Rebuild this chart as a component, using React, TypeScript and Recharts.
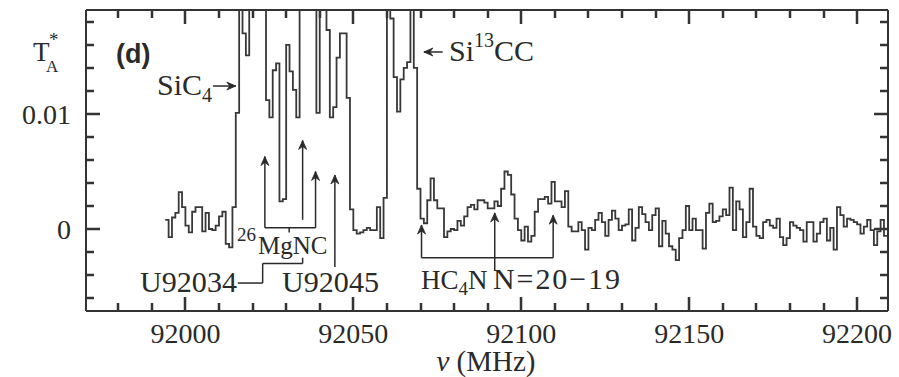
import React from 'react';
import { ComposedChart, Line, XAxis, YAxis, ReferenceLine } from 'recharts';

// spectrum in 1 MHz channels, first channel starts at F0
const F0 = 91994;

// 91994 - 92015 : baseline left of SiC4
const BASE_LEFT = [
  0.0008, -0.0007, 0.001, 0.0014, 0.0032, 0.0019, 0.0003, -0.0003, 0.0015, 0.0019, 0.0019,
  -0.0002, 0.0014, 0.0, -0.0001, 0.0003, 0.0011, 0.0015, -0.0013, -0.0016, 0.0019, 0.0101,
];

// 92016 - 92068 : SiC4 / MgNC / U lines / Si13CC (values above the frame are clipped)
const STRONG = [
  0.03, 0.017, 0.0151, 0.032, 0.035, 0.036, 0.033, 0.028, 0.0112, 0.0097, 0.0138, 0.0144,
  0.0024, 0.0026, 0.016, 0.0137, 0.0121, 0.0097, 0.024, 0.028, 0.03, 0.027, 0.022, 0.0101,
  0.024, 0.026, 0.0173, 0.0097, 0.0106, 0.0149, 0.017, 0.017, 0.0114, 0.0017, -0.0001,
  -0.0004, -0.0003, -0.0001, 0.0001, -0.0001, -0.0001, 0.0019, -0.0008, 0.0027, 0.026,
  0.0183, 0.0132, 0.0102, 0.013, 0.014, 0.0145, 0.027, 0.014,
];

// 92069 - 92115 : HC4N triplet region
const HC4N_REGION = [
  0.0035, 0.0009, 0.0005, 0.0025, 0.0044, 0.0025, 0.0018, 0.0018, -0.0007, -0.0002, 0.0,
  -0.0001, 0.0007, 0.0003, 0.0011, 0.0019, 0.0021, 0.0017, 0.0025, 0.0025, 0.0023, 0.0018,
  0.0018, 0.0024, 0.002, 0.0035, 0.005, 0.0047, 0.003, 0.0009, -0.0001, -0.001, 0.0002,
  -0.0011, -0.0006, 0.0015, 0.0026, 0.0026, 0.0028, 0.0022, 0.0041, 0.0024, 0.0024, 0.0019,
  0.0033, 0.0002, -0.0002,
];

// 92116 - 92208 : noise to the right
const NOISE_RIGHT = [
  -0.0002, 0.0006, -0.0001, -0.0018, 0.0001, -0.0001, 0.0008, 0.0014, 0.0006, -0.0006,
  0.0008, 0.0016, 0.0009, -0.0001, 0.0003, 0.0004, 0.0017, -0.001, 0.0001, 0.0019, 0.0013,
  0.0006, -0.0001, 0.0012, 0.0018, -0.0015, 0.0007, -0.0004, -0.0015, -0.0018, -0.0027,
  -0.0008, -0.0001, 0.002, -0.0001, 0.0009, -0.0001, -0.0001, -0.0017, 0.0014, 0.0022,
  0.0006, 0.0007, 0.0011, 0.0017, 0.0012, 0.0036, -0.0001, 0.0024, 0.0017, -0.0007, 0.0006,
  0.0035, 0.0002, -0.0006, -0.0008, 0.0006, 0.0008, 0.0003, 0.0001, 0.0009, -0.0007,
  -0.0014, -0.0008, 0.0006, 0.0003, 0.0001, -0.0001, -0.0011, 0.0006, 0.0006, -0.0011,
  -0.0004, 0.0006, 0.0009, -0.001, 0.0001, -0.0018, 0.0019, 0.0012, 0.0002, 0.0009, 0.0008,
  0.0006, 0.0004, -0.0004, 0.0002, 0.0008, -0.0001, -0.0014, -0.0002, 0.0008, -0.0006,
];

const X_TICKS = [
  91980, 91990, 92000, 92010, 92020, 92030, 92040, 92050, 92060, 92070, 92080, 92090, 92100,
  92110, 92120, 92130, 92140, 92150, 92160, 92170, 92180, 92190, 92200,
];
const X_MAJOR = [92000, 92050, 92100, 92150, 92200];
const Y_TICKS = [
  -0.006, -0.004, -0.002, 0, 0.002, 0.004, 0.006, 0.008, 0.01, 0.012, 0.014, 0.016, 0.018,
];
const Y_MAJOR = [0, 0.01];
const Y_LABELS = ['0', '0.01'];

// arrows [nu1, t1, nu2, t2], head at the second point
const ARROWS = [
  [92008.2, 0.01243, 92015.0, 0.01243], // SiC4
  [92076.6, 0.01539, 92071.0, 0.01539], // Si13CC
  [92023.66, 0.0001, 92023.66, 0.0063], // 26MgNC
  [92038.75, 0.0001, 92038.75, 0.005],
  [92034.9, 0.0008, 92034.9, 0.0077], // U92034
  [92044.5, -0.0033, 92044.5, 0.0047], // U92045
  [92070.3, -0.0025, 92070.3, 0.00035], // HC4N
  [92092.1, -0.0036, 92092.1, 0.0014],
  [92109.5, -0.0025, 92109.5, 0.0012],
];
// plain leader / bracket lines
const LEADERS = [
  [92023.66, 0.0001, 92038.75, 0.0001],
  [92030.9, 0.0001, 92030.9, -0.0003],
  [92015.6, -0.0047, 92023.0, -0.0047],
  [92023.0, -0.0047, 92023.0, -0.003],
  [92023.0, -0.003, 92034.9, -0.003],
  [92034.9, -0.003, 92034.9, -0.0025],
  [92070.3, -0.0025, 92109.5, -0.0025],
];

const X_DOMAIN = [91970.4, 92209.2];
const Y_DOMAIN = [-0.00713, 0.01904];

const INK = '#2a2a2a';
const FRAME = '#333';
const SERIF = '"Liberation Serif", "DejaVu Serif", serif';

// plot box (margins + axis sizes below)
const PLOT = { left: 86, top: 10, width: 802, height: 301 };
const MAJOR_LEN = 14;
const MINOR_LEN = 8;

const data = spectrumRows();

function spectrumRows() {
  const all = [...BASE_LEFT, ...STRONG, ...HC4N_REGION, ...NOISE_RIGHT];
  const rows = all.map((t, i) => ({ nu: F0 + i, t }));
  rows.push({ nu: F0 + all.length, t: all[all.length - 1] });
  return rows;
}

const isMajorY = (v: number) => Y_MAJOR.some((m) => Math.abs(m - v) < 1e-9);
const px = (v: number) => PLOT.left + ((v - X_DOMAIN[0]) / (X_DOMAIN[1] - X_DOMAIN[0])) * PLOT.width;
const py = (v: number) => PLOT.top + ((Y_DOMAIN[1] - v) / (Y_DOMAIN[1] - Y_DOMAIN[0])) * PLOT.height;

// inward tick marks on all four sides of the box
function tickPath() {
  const top = PLOT.top;
  const bottom = PLOT.top + PLOT.height;
  const left = PLOT.left;
  const right = PLOT.left + PLOT.width;
  let d = '';
  X_TICKS.forEach((v) => {
    const len = X_MAJOR.includes(v) ? MAJOR_LEN : MINOR_LEN;
    const x = Math.round(px(v));
    d += `M${x} ${bottom} L${x} ${bottom - len} M${x} ${top} L${x} ${top + len} `;
  });
  Y_TICKS.forEach((v) => {
    const len = isMajorY(v) ? MAJOR_LEN : MINOR_LEN;
    const y = Math.round(py(v));
    d += `M${left} ${y} L${left + len} ${y} M${right} ${y} L${right - len} ${y} `;
  });
  return d;
}
const TICK_D = tickPath();

const BottomLabel = (p: any) =>
  X_MAJOR.includes(p.payload.value) ? (
    <text x={p.x} y={p.y + 32} textAnchor="middle" fontFamily={SERIF} fontSize={28} fill={INK}>
      {p.payload.value}
    </text>
  ) : (
    <g />
  );

const LeftLabel = (p: any) => {
  const idx = Y_MAJOR.findIndex((m) => Math.abs(m - p.payload.value) < 1e-9);
  return idx >= 0 ? (
    <text x={p.x - 15} y={p.y + 10} textAnchor="end" fontFamily={SERIF} fontSize={28} fill={INK}>
      {Y_LABELS[idx]}
    </text>
  ) : (
    <g />
  );
};

const lineShape = (head: boolean, color: string, width: number) => (p: any) => {
  const { x1, y1, x2, y2 } = p;
  const len = Math.hypot(x2 - x1, y2 - y1) || 1;
  const ux = (x2 - x1) / len;
  const uy = (y2 - y1) / len;
  const L = 9;
  const W = 4;
  const d = `M${x2},${y2} L${x2 - L * ux + W * uy},${y2 - L * uy - W * ux} L${x2 - (L - 3) * ux},${y2 - (L - 3) * uy} L${x2 - L * ux - W * uy},${y2 - L * uy + W * ux} Z`;
  return (
    <g>
      <line x1={x1} y1={y1} x2={x2} y2={y2} stroke={color} strokeWidth={width} />
      {head && <path d={d} fill={color} stroke={color} strokeWidth={0.8} />}
    </g>
  );
};

const Labels = () => (
  <g>
    <path d={TICK_D} fill="none" stroke={FRAME} strokeWidth={2.5} strokeLinecap="butt" />
    <g fill={INK} fontFamily={SERIF} fontSize={30}>
      <text x={116} y={63} fontFamily='"Liberation Sans", Arial, sans-serif' fontWeight="bold" fontSize={27}>
        (d)
      </text>
      {/* y title */}
      <text x={33} y={61} fontSize={27}>T</text>
      <text x={49} y={46} fontSize={19}>*</text>
      <text x={46} y={72} fontSize={17}>A</text>
      {/* x title */}
      <text x={486} y={371} textAnchor="middle" fontSize={29}>
        <tspan fontStyle="italic">ν</tspan> (MHz)
      </text>
      <text x={157} y={95}>
        SiC<tspan fontSize={20} dy={7}>4</tspan>
      </text>
      <text x={449} y={61}>
        Si<tspan fontSize={20} dy={-14}>13</tspan>
        <tspan dy={14}>CC</tspan>
      </text>
      <text x={237} y={241} fontSize={19}>26</text>
      <text x={258} y={254} fontSize={25}>MgNC</text>
      <text x={140} y={292} textLength={97} lengthAdjust="spacingAndGlyphs">U92034</text>
      <text x={282} y={292} textLength={97} lengthAdjust="spacingAndGlyphs">U92045</text>
      <text x={421} y={289} fontSize={27}>
        HC<tspan fontSize={19} dy={6}>4</tspan>
        <tspan dy={-6}>N</tspan>
      </text>
      <text x={493} y={289} textLength={127} lengthAdjust="spacing">
        N=20−19
      </text>
    </g>
  </g>
);

export default function App() {
  return (
    <div style={{ position: 'fixed', left: 0, top: 0, width: 899, height: 377, background: '#fff' }}>
      <ComposedChart
        width={899}
        height={377}
        data={data}
        margin={{ top: PLOT.top, right: 899 - PLOT.left - PLOT.width, bottom: 0, left: 0 }}
      >
        <XAxis
          dataKey="nu"
          type="number"
          domain={X_DOMAIN}
          allowDataOverflow
          ticks={X_TICKS}
          interval={0}
          tick={BottomLabel}
          tickLine={false}
          tickSize={0}
          tickMargin={0}
          height={377 - PLOT.top - PLOT.height}
          axisLine={{ stroke: FRAME, strokeWidth: 2 }}
        />
        <YAxis
          type="number"
          domain={Y_DOMAIN}
          allowDataOverflow
          ticks={Y_TICKS}
          interval={0}
          tick={LeftLabel}
          tickLine={false}
          tickSize={0}
          tickMargin={0}
          width={PLOT.left}
          axisLine={{ stroke: FRAME, strokeWidth: 2 }}
        />
        <ReferenceLine y={Y_DOMAIN[1]} stroke={FRAME} strokeWidth={2} ifOverflow="visible" />
        <ReferenceLine x={X_DOMAIN[1]} stroke={FRAME} strokeWidth={2} ifOverflow="visible" />
        <Line
          dataKey="t"
          type="stepAfter"
          stroke="#383838"
          strokeWidth={1.8}
          dot={false}
          activeDot={false}
          isAnimationActive={false}
        />
        {LEADERS.map((s, i) => (
          <ReferenceLine
            key={'l' + i}
            segment={[{ x: s[0], y: s[1] }, { x: s[2], y: s[3] }]}
            shape={lineShape(false, INK, 1.5)}
          />
        ))}
        {ARROWS.map((s, i) => (
          <ReferenceLine
            key={'a' + i}
            segment={[{ x: s[0], y: s[1] }, { x: s[2], y: s[3] }]}
            shape={lineShape(true, INK, 1.5)}
          />
        ))}
        <Labels />
      </ComposedChart>
    </div>
  );
}
